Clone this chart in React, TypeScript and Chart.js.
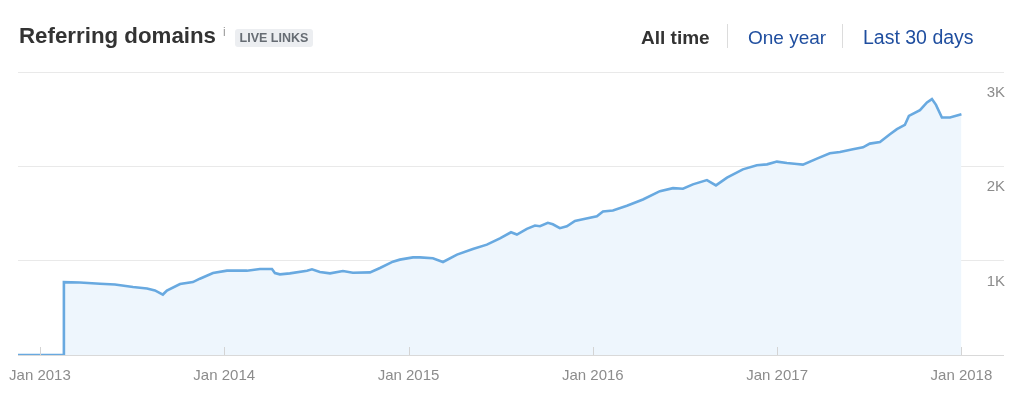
import React, { useEffect, useRef } from "react";
import { Chart, registerables } from "chart.js";

Chart.register(...registerables);

// ---- data ----
const title = "Referring domains";
const badge = "LIVE LINKS";
const tabs = ["All time", "One year", "Last 30 days"];

// dates as decimal years
const dates = [
  2012.881, 2013.128, 2013.130, 2013.217, 2013.326, 2013.407, 2013.505, 2013.581,
  2013.624, 2013.667, 2013.689, 2013.760, 2013.830, 2013.868, 2013.939, 2014.015,
  2014.123, 2014.194, 2014.259, 2014.275, 2014.302, 2014.356, 2014.449, 2014.476,
  2014.519, 2014.574, 2014.644, 2014.698, 2014.791, 2014.845, 2014.915, 2014.953,
  2015.024, 2015.062, 2015.132, 2015.187, 2015.263, 2015.349, 2015.425, 2015.496,
  2015.556, 2015.588, 2015.642, 2015.686, 2015.713, 2015.756, 2015.783, 2015.821,
  2015.859, 2015.903, 2015.946, 2016.022, 2016.055, 2016.109, 2016.185, 2016.272,
  2016.364, 2016.435, 2016.489, 2016.543, 2016.619, 2016.668, 2016.728, 2016.814,
  2016.890, 2016.945, 2016.999, 2017.053, 2017.107, 2017.140, 2017.216, 2017.286,
  2017.341, 2017.411, 2017.466, 2017.503, 2017.558, 2017.612, 2017.650, 2017.693,
  2017.715, 2017.775, 2017.813, 2017.840, 2017.862, 2017.894, 2017.938, 2018.0,
];

const domains = [
  0, 0, 772, 768, 755, 748, 720, 705,
  685, 641, 684, 752, 773, 809, 869, 894,
  894, 911, 911, 869, 855, 865, 894, 908,
  880, 865, 890, 872, 876, 922, 989, 1011,
  1035, 1035, 1025, 986, 1064, 1124, 1170, 1237,
  1301, 1277, 1337, 1372, 1365, 1401, 1386, 1344,
  1365, 1422, 1439, 1471, 1521, 1532, 1582, 1649,
  1737, 1769, 1762, 1809, 1854, 1798, 1880, 1968,
  2011, 2021, 2050, 2036, 2025, 2018, 2082, 2138,
  2152, 2181, 2202, 2241, 2258, 2340, 2394, 2439,
  2535, 2596, 2677, 2713, 2652, 2518, 2518, 2553,
];

const yearTicks = [2013, 2014, 2015, 2016, 2017, 2018];
const valueTicks = [0, 1000, 2000, 3000];

const X_MIN = 2012.881;
const X_MAX = 2018.231;

const FONT = "'Liberation Sans', Arial, Helvetica, sans-serif";

const tickMarks = {
  id: "tickMarks",
  afterDatasetsDraw(chart: any) {
    const { ctx, scales } = chart;
    const x = scales.x;
    const y = scales.y;
    const y0 = Math.round(y.getPixelForValue(0));
    ctx.save();
    ctx.strokeStyle = "#d4d4d4";
    ctx.lineWidth = 1;
    x.ticks.forEach((t: any) => {
      const px = Math.round(x.getPixelForValue(t.value)) + 0.5;
      ctx.beginPath();
      ctx.moveTo(px, y0);
      ctx.lineTo(px, y0 - 8);
      ctx.stroke();
    });
    ctx.restore();
  },
};

function ChartCanvas() {
  const ref = useRef<HTMLCanvasElement>(null);
  useEffect(() => {
    if (!ref.current) return;
    const chart = new Chart(ref.current, {
      type: "line",
      data: {
        datasets: [
          {
            data: dates.map((d, i) => ({ x: d, y: domains[i] })),
            borderColor: "#68a9e0",
            borderWidth: 2.6,
            backgroundColor: "#eef6fd",
            fill: "origin",
            pointRadius: 0,
            tension: 0,
          },
        ],
      },
      options: {
        responsive: false,
        animation: false,
        layout: { padding: { left: 18, right: 20, top: 72, bottom: 0 } },
        plugins: { legend: { display: false }, tooltip: { enabled: false } },
        scales: {
          x: {
            type: "linear",
            min: X_MIN,
            max: X_MAX,
            afterBuildTicks: (s: any) => {
              s.ticks = yearTicks.map((v) => ({ value: v }));
            },
            afterFit: (s: any) => {
              s.height = 56;
              s.paddingLeft = 0;
              s.paddingRight = 0;
            },
            grid: { display: false, drawTicks: false },
            border: { display: false },
            ticks: {
              autoSkip: false,
              maxRotation: 0,
              padding: 12,
              color: "#8c8c8c",
              font: { size: 15, family: FONT },
              callback: (v: any) => "Jan " + v,
            },
          },
          y: {
            position: "right",
            min: 0,
            max: 3000,
            afterBuildTicks: (s: any) => {
              s.ticks = valueTicks.map((v) => ({ value: v }));
            },
            afterFit: (s: any) => {
              s.width = 0;
              s.paddingTop = 0;
              s.paddingBottom = 0;
            },
            grid: {
              drawTicks: false,
              color: (c: any) => (c.tick && c.tick.value === 0 ? "#d9d9d9" : "#e9e9e9"),
            },
            border: { display: false },
            ticks: {
              mirror: true,
              padding: 1,
              labelOffset: 21,
              color: "#8c8c8c",
              font: { size: 15, family: FONT },
              callback: (v: any) => (v === 0 ? "" : v / 1000 + "K"),
            },
          },
        },
      },
      plugins: [tickMarks],
    } as any);
    return () => chart.destroy();
  }, []);
  return <canvas ref={ref} width={1024} height={411} style={{ display: "block", position: "absolute", left: 0, top: 0 }} />;
}

export default function App() {
  return (
    <div
      style={{
        position: "absolute",
        left: 0,
        top: 0,
        width: 1024,
        height: 411,
        background: "#fff",
        fontFamily: FONT,
        overflow: "hidden",
      }}
    >
      <ChartCanvas />
      <span style={{ position: "absolute", left: 19, top: 25, fontSize: 22.3, lineHeight: "22px", fontWeight: "bold", color: "#333", whiteSpace: "nowrap" }}>
        {title}
      </span>
      <span style={{ position: "absolute", left: 223, top: 26, fontSize: 12, lineHeight: "12px", color: "#999" }}>i</span>
      <span
        style={{
          position: "absolute",
          left: 235,
          top: 29,
          height: 18,
          width: 78,
          boxSizing: "border-box",
          background: "#eceef1",
          borderRadius: 3,
          fontSize: 12.5,
          lineHeight: "18px",
          fontWeight: "bold",
          color: "#666c73",
          textAlign: "center",
          whiteSpace: "nowrap",
        }}
      >
        {badge}
      </span>
      <span style={{ position: "absolute", left: 641, top: 28, fontSize: 19, lineHeight: "19px", fontWeight: "bold", color: "#333", whiteSpace: "nowrap" }}>
        {tabs[0]}
      </span>
      <div style={{ position: "absolute", left: 727, top: 24, width: 1, height: 24, background: "#dcdcdc" }} />
      <span style={{ position: "absolute", left: 748, top: 28, fontSize: 19, lineHeight: "19px", color: "#1f4e9f", whiteSpace: "nowrap" }}>
        {tabs[1]}
      </span>
      <div style={{ position: "absolute", left: 842, top: 24, width: 1, height: 24, background: "#dcdcdc" }} />
      <span style={{ position: "absolute", left: 863, top: 28, fontSize: 19.5, lineHeight: "19px", color: "#1f4e9f", whiteSpace: "nowrap" }}>
        {tabs[2]}
      </span>
    </div>
  );
}
